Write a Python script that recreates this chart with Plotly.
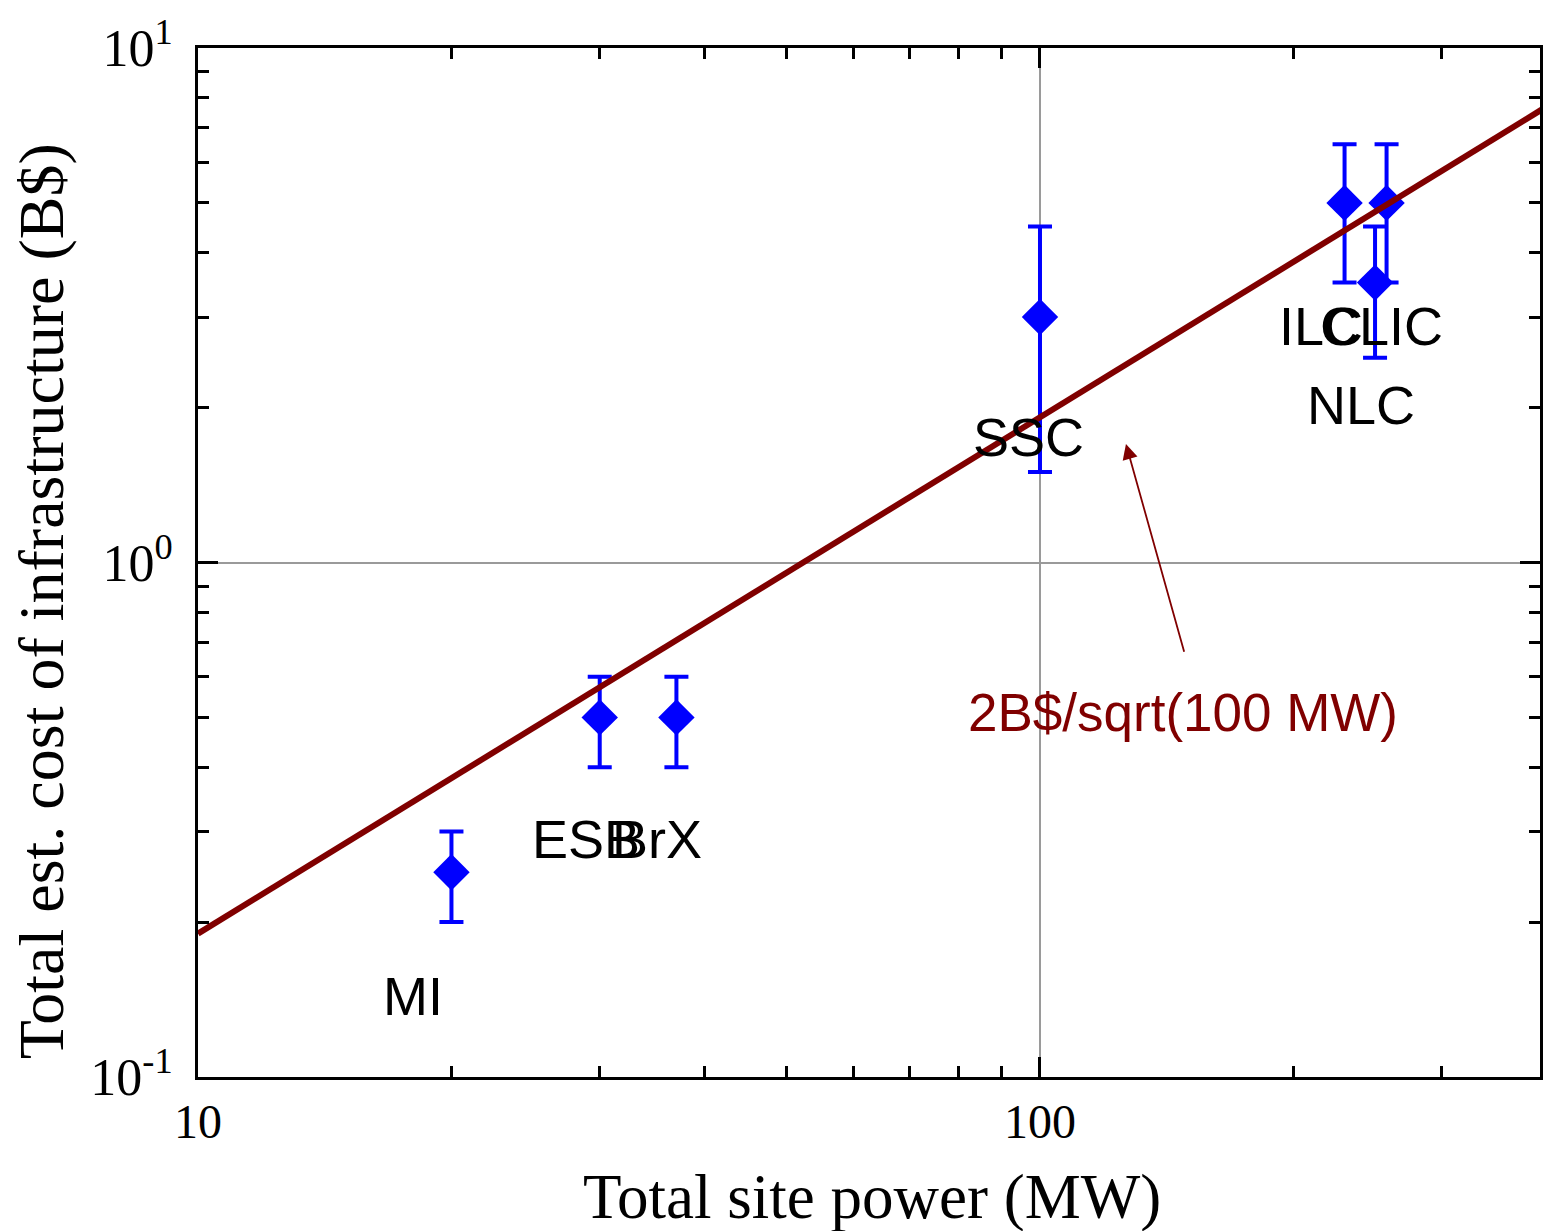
import math
import plotly.graph_objects as go

# ---- data ----
names = ["MI", "ESB", "BrX", "SSC", "ILC", "CLIC", "NLC"]
power_mw = [20, 30, 37, 100, 230, 258, 250]
cost_bd = [0.25, 0.5, 0.5, 3.0, 5.0, 5.0, 3.5]
cost_hi = [0.3, 0.6, 0.6, 4.5, 6.5, 6.5, 4.5]
cost_lo = [0.2, 0.4, 0.4, 1.5, 3.5, 3.5, 2.5]

fit_x = [10, 400]
fit_y = [0.19, 7.7]

x_major = [10, 100]
x_major_text = ["10", "100"]
x_minor = [20, 30, 40, 50, 60, 70, 80, 90, 200, 300]
y_major = [0.1, 1, 10]
y_major_text = ["10<sup>-1</sup>", "10<sup>0</sup>", "10<sup>1</sup>"]
y_minor = [0.2, 0.3, 0.4, 0.5, 0.6, 0.7, 0.8, 0.9, 2, 3, 4, 5, 6, 7, 8, 9]

# label pixel offsets (style)
label_dx = [-38, -14, -19, -11, -24, -5, -14]
label_dy = [-124, -122, -122, -120, -123, -123, -122]

note_text = "2B$/sqrt(100 MW)"
note_pos = (148, 0.512)
arrow_tip = (126.5, 1.70)
arrow_tail = (148.5, 0.666)

BLUE = "#0000ff"
DARKRED = "#800000"
SERIF = "Liberation Serif, Times New Roman, serif"
SANS = "Liberation Sans, Arial, sans-serif"

fig = go.Figure()
fig.add_trace(go.Scatter(
    x=power_mw, y=cost_bd, mode="markers",
    marker=dict(symbol="diamond", size=28, color=BLUE),
    error_y=dict(type="data", symmetric=False,
                 array=[h - c for h, c in zip(cost_hi, cost_bd)],
                 arrayminus=[c - l for c, l in zip(cost_bd, cost_lo)],
                 color=BLUE, thickness=4, width=12),
    showlegend=False, hoverinfo="skip",
))
fig.add_trace(go.Scatter(
    x=fit_x, y=fit_y, mode="lines",
    line=dict(color=DARKRED, width=6),
    showlegend=False, hoverinfo="skip",
))

annotations = []
for n, x, y, dx, dy in zip(names, power_mw, cost_bd, label_dx, label_dy):
    annotations.append(dict(
        x=math.log10(x), y=math.log10(y), xref="x", yref="y",
        text=n, showarrow=False, xshift=dx, yshift=dy,
        font=dict(family=SANS, size=54, color="black"),
    ))
annotations.append(dict(
    x=math.log10(note_pos[0]), y=math.log10(note_pos[1]), xref="x", yref="y",
    text=note_text, showarrow=False,
    font=dict(family=SANS, size=53, color=DARKRED),
))
annotations.append(dict(
    x=math.log10(arrow_tip[0]), y=math.log10(arrow_tip[1]), xref="x", yref="y",
    ax=math.log10(arrow_tail[0]), ay=math.log10(arrow_tail[1]), axref="x", ayref="y",
    text="", showarrow=True, arrowhead=2, arrowsize=1.7, arrowwidth=1.8,
    arrowcolor=DARKRED,
))
annotations.append(dict(
    x=0.5026, y=-0.1166, xref="paper", yref="paper",
    text="Total site power (MW)", showarrow=False,
    xanchor="center", yanchor="middle",
    font=dict(family=SERIF, size=63, color="black"),
))
annotations.append(dict(
    x=-0.116, y=0.4626, xref="paper", yref="paper",
    text="Total est. cost of infrastructure (B$)", showarrow=False,
    textangle=-90, xanchor="center", yanchor="middle",
    font=dict(family=SERIF, size=64, color="black"),
))

axis_common = dict(
    showline=True, linecolor="black", linewidth=3, mirror="ticks",
    ticks="inside", ticklen=20, tickwidth=3, tickcolor="black",
    showgrid=True, gridcolor="#9a9a9a", gridwidth=1.5, zeroline=False,
)

fig.update_layout(
    width=1543, height=1231,
    margin=dict(l=198, r=0, t=48, b=154),
    paper_bgcolor="white", plot_bgcolor="white",
    xaxis=dict(type="log", range=[1, math.log10(392.5)],
               tickvals=x_major, ticktext=x_major_text,
               tickfont=dict(family=SERIF, size=48, color="black"),
               minor=dict(tickvals=x_minor, ticks="inside", ticklen=11,
                          tickwidth=3, tickcolor="black", showgrid=False),
               **axis_common),
    yaxis=dict(type="log", range=[-1, 1],
               tickvals=y_major, ticktext=y_major_text,
               tickfont=dict(family=SERIF, size=52, color="black"),
               ticklabelstandoff=12,
               minor=dict(tickvals=y_minor, ticks="inside", ticklen=11,
                          tickwidth=3, tickcolor="black", showgrid=False),
               **axis_common),
    annotations=annotations,
)

fig.write_html("out.html")
